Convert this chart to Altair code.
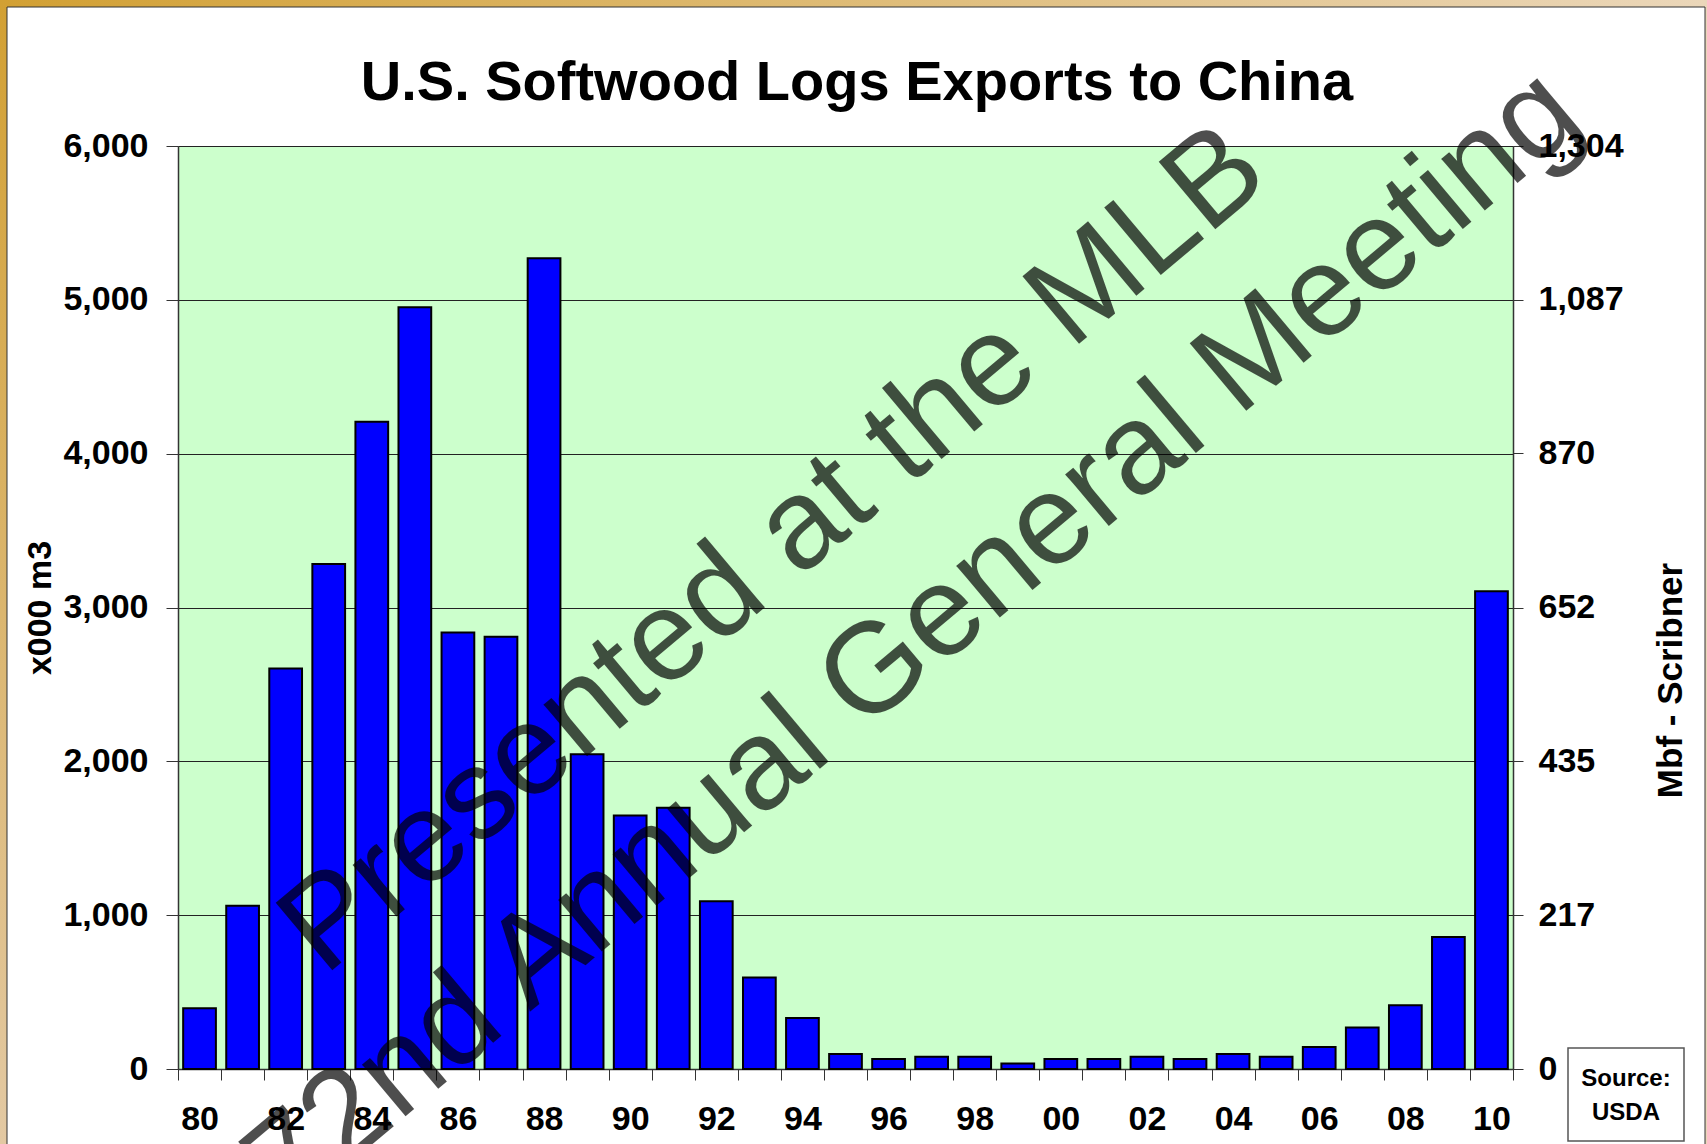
import altair as alt
import pandas as pd

# ---- data ----
years = ['80', '81', '82', '83', '84', '85', '86', '87', '88', '89',
         '90', '91', '92', '93', '94', '95', '96', '97', '98', '99',
         '00', '01', '02', '03', '04', '05', '06', '07', '08', '09', '10']
m3_thousand = [395, 1062, 2604, 3283, 4208, 4952, 2838, 2810, 5270, 2046,
               1648, 1698, 1090, 595, 331, 97, 65, 80, 80, 35,
               65, 65, 80, 65, 97, 80, 143, 269, 414, 858, 3106]
left_ticks = [0, 1000, 2000, 3000, 4000, 5000, 6000]
right_ticks = [0, 217, 435, 652, 870, 1087, 1304]
title_text = "U.S. Softwood Logs Exports to China"
left_title = "x000 m3"
right_title = "Mbf - Scribner"
watermark_lines = ["Presented at the MLB", "72nd Annual General Meeting"]
source_lines = ["Source:", "USDA"]

FONT = "Liberation Sans"
W, H = 1335, 923

df = pd.DataFrame({"year": years, "m3": m3_thousand})
one = pd.DataFrame({"a": [0]})

xenc = alt.X(
    "year:N", sort=years,
    scale=alt.Scale(paddingInner=0, paddingOuter=0),
    axis=alt.Axis(
        title=None, labelAngle=0, labelOverlap=False,
        labelExpr="parseInt(datum.value) % 2 == 0 ? datum.value : ''",
        tickBand="extent", tickSize=11, tickColor="#333", domainColor="#333",
        domainWidth=1.5, labelFont=FONT, labelFontSize=34, labelFontWeight="bold",
        labelColor="black", labelPadding=22, grid=False,
    ),
)

bars = alt.Chart(df).mark_bar(
    color="#0000FF", stroke="black", strokeWidth=2,
    width=alt.RelativeBandSize(0.76)).encode(
    x=xenc,
    y=alt.Y(
        "m3:Q",
        scale=alt.Scale(domain=[0, 6000], nice=False),
        axis=alt.Axis(
            title=left_title, values=left_ticks, format=",.0f", grid=True,
            gridColor="#222", gridWidth=1, tickSize=12, tickColor="#333",
            domainColor="#333", domainWidth=1.5, labelFont=FONT, labelFontSize=34,
            labelFontWeight="bold", labelColor="black", labelPadding=18,
            titleFont=FONT, titleFontSize=34, titleFontWeight="bold", titleColor="black",
            titleX=-138, titleY=H / 2, titleAngle=270, titleAlign="center",
            titleBaseline="middle",
        ),
    ),
)

right = alt.Chart(df).transform_calculate(
    mbf="datum.m3 * 1304 / 6000"
).mark_tick(opacity=0).encode(
    x=xenc,
    y=alt.Y(
        "mbf:Q",
        scale=alt.Scale(domain=[0, 1304], nice=False),
        axis=alt.Axis(
            orient="right", title=right_title, values=right_ticks, format=",.0f",
            grid=False, tickSize=10, tickColor="#333", domainColor="#333",
            domainWidth=1.5, labelFont=FONT, labelFontSize=34, labelFontWeight="bold",
            labelColor="black", labelPadding=15,
            titleFont=FONT, titleFontSize=35, titleFontWeight="bold", titleColor="black",
            titleX=157, titleY=534, titleAngle=270, titleAlign="center",
            titleBaseline="middle",
        ),
    ),
)

# ---- decorative frame (gold border) ----
grad_h = alt.LinearGradient(
    gradient="linear",
    stops=[alt.GradientStop(color="#D2A033", offset=0),
           alt.GradientStop(color="#EBD7BA", offset=1)],
    x1=0, x2=1, y1=0, y2=0)
grad_v = alt.LinearGradient(
    gradient="linear",
    stops=[alt.GradientStop(color="#D2A033", offset=0),
           alt.GradientStop(color="#E3C9A3", offset=1)],
    x1=0, x2=0, y1=0, y2=1)
top_strip = alt.Chart(one).mark_rect(fill=grad_h).encode(
    x=alt.value(-178), x2=alt.value(1529), y=alt.value(-146), y2=alt.value(-139))
left_strip = alt.Chart(one).mark_rect(fill=grad_v).encode(
    x=alt.value(-178), x2=alt.value(-171), y=alt.value(-146), y2=alt.value(1000))
right_strip = alt.Chart(one).mark_rect(fill="#EAD6BA").encode(
    x=alt.value(1527), x2=alt.value(1529), y=alt.value(-146), y2=alt.value(1000))
inner_line = alt.Chart(one).mark_rect(fill="transparent", stroke="#333", strokeWidth=1).encode(
    x=alt.value(-171), x2=alt.value(1527), y=alt.value(-139), y2=alt.value(1010))

# ---- title ----
title = alt.Chart(one).mark_text(
    text=title_text, font=FONT, fontSize=56, fontWeight="bold", color="black",
    align="center", baseline="alphabetic").encode(x=alt.value(679), y=alt.value(-46))

# ---- watermark ----
wm1 = alt.Chart(one).mark_text(
    text=watermark_lines[0], font=FONT, fontSize=128, angle=320, color="black",
    opacity=0.69, align="center", baseline="middle").encode(
    x=alt.value(596), y=alt.value(404))
wm2 = alt.Chart(one).mark_text(
    text=watermark_lines[1], font=FONT, fontSize=128, angle=320, color="black",
    opacity=0.69, align="center", baseline="middle").encode(
    x=alt.value(736), y=alt.value(494))

# ---- source box ----
src_box = alt.Chart(one).mark_rect(fill="white", stroke="#555", strokeWidth=1.5).encode(
    x=alt.value(1390), x2=alt.value(1506), y=alt.value(902), y2=alt.value(995))
src1 = alt.Chart(one).mark_text(
    text=source_lines[0], font=FONT, fontSize=24, fontWeight="bold", color="black",
    align="center", baseline="middle").encode(x=alt.value(1448), y=alt.value(933))
src2 = alt.Chart(one).mark_text(
    text=source_lines[1], font=FONT, fontSize=24, fontWeight="bold", color="black",
    align="center", baseline="middle").encode(x=alt.value(1448), y=alt.value(967))

chart = alt.layer(
    bars, right, top_strip, left_strip, right_strip, inner_line, title,
    wm1, wm2, src_box, src1, src2
).resolve_scale(y="independent").properties(
    width=W, height=H,
    autosize=alt.AutoSizeParams(type="none"),
    padding={"left": 178, "top": 146, "right": 194, "bottom": 75},
    background="white",
).configure_view(fill="#CCFFCC", stroke="#888", strokeWidth=1)

chart.save("out.html", embed_options={"renderer": "svg", "actions": False})
